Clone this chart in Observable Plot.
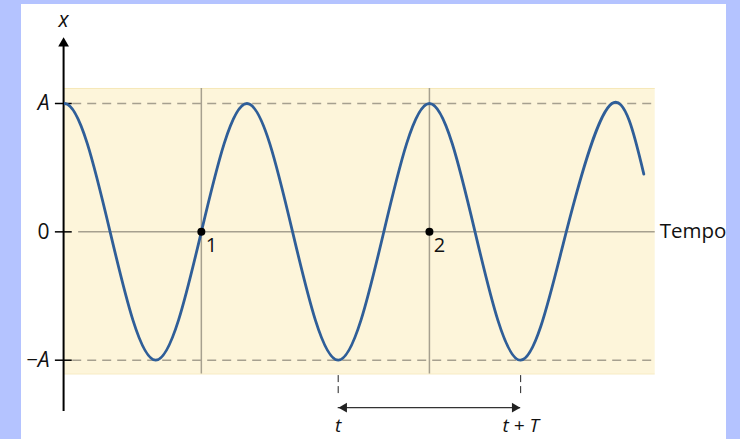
<!DOCTYPE html>
<html>
<head>
<meta charset="utf-8">
<script src="https://cdn.jsdelivr.net/npm/d3@7"></script>
<script src="https://cdn.jsdelivr.net/npm/@observablehq/plot@0.6"></script>
<style>
  html, body { margin: 0; padding: 0; }
  body { width: 740px; height: 439px; background: #b4c3ff; position: relative; overflow: hidden; }
  #chart { position: absolute; left: 21px; top: 4px; width: 705px; height: 435px; background: #ffffff; }
  #chart svg { display: block; overflow: visible; }
</style>
</head>
<body>
<div id="chart"></div>
<script>
// Oscillation x(t): time in quarter-periods, displacement in units of A.
// The first sample (t = -1) lies left of the axis and is clipped away;
// it only gives the spline the right shape at t = 0.
const curveT = [-1, 0, 1, 2, 3, 4, 5, 6, 7, 8, 9, 10, 11, 12, 12.7];
const curveX = [0, 1, 0, -1, 0, 1, 0, -1, 0, 1, 0, -1, 0, 1, 0.45];

// y-axis tick values and labels
const tickValues = [1, 0, -1];
const tickLabels = ["A", "0", "\u2212A"];

// marked instants 1 and 2 (zero crossing and crest)
const markT = [3, 8];
const markX = [0, 0];
const markLabels = ["1", "2"];

// one period between two troughs: t and t + T
const periodT = [6, 10];
const periodLabels = ["t", "t + T"];

const tEnd = 12.95;

const curve = curveT.map((t, i) => ({t, x: curveX[i]}));
const marks = markT.map((t, i) => ({t, x: markX[i], label: markLabels[i]}));
const ticks = tickValues.map((v, i) => ({v, label: tickLabels[i]}));
const periods = periodT.map((t, i) => ({t, label: periodLabels[i]}));

const grey = "#a6a08f";
const ink = "#111";
const font = "Open Sans";

const chart = Plot.plot({
  width: 705,
  height: 435,
  marginLeft: 43,
  marginRight: 69,
  marginTop: 0,
  marginBottom: 0,
  style: {background: "white", fontFamily: font, overflow: "visible"},
  x: {domain: [0, 13], axis: null},
  y: {domain: [-1, 1], range: [355.7, 99], axis: null},
  marks: [
    // shaded band
    Plot.rect([0], {x1: 0, x2: tEnd, y1: -1.107, y2: 1.117, fill: "#fdf5da"}),
    Plot.ruleY([1.117, -1.107], {x1: 0, x2: tEnd, stroke: "#f6e8b9", strokeWidth: 1}),
    // vertical guides through the marked instants
    Plot.ruleX(markT, {y1: -1.107, y2: 1.117, stroke: grey, strokeWidth: 1.5}),
    // time axis at x = 0
    Plot.ruleY([0], {x1: 0.31, x2: tEnd, stroke: grey, strokeWidth: 1.5}),
    // dashed amplitude lines
    Plot.ruleY([1, -1], {x1: 0.18, x2: tEnd, stroke: grey, strokeWidth: 1.5, strokeDasharray: "9,6"}),
    // dashed drop lines at t and t + T
    Plot.ruleX(periodT, {y1: -1.12, y2: -1.28, stroke: "#222", strokeWidth: 1, strokeDasharray: "7,4"}),
    // period span with arrowheads
    Plot.ruleY([-1.37], {x1: periodT[0], x2: periodT[1], stroke: "#333", strokeWidth: 1.2}),
    Plot.dot([periodT[0] + 0.13], {x: d => d, y: -1.37, symbol: "triangle", r: 3.6, fill: "#222", stroke: null, rotate: -90}),
    Plot.dot([periodT[1] - 0.13], {x: d => d, y: -1.37, symbol: "triangle", r: 3.6, fill: "#222", stroke: null, rotate: 90}),
    Plot.text(periods, {x: "t", y: -1.51, text: "label", fontSize: 19, fontStyle: "italic", fill: ink}),
    // displacement axis
    Plot.ruleX([-0.02], {y1: -1.40, y2: 1.45, stroke: "#000", strokeWidth: 2}),
    Plot.dot([1.468], {x: -0.02, y: d => d, symbol: "triangle", r: 4, fill: "#000", stroke: null}),
    Plot.ruleY(ticks, {y: "v", x1: -0.2, x2: 0.17, stroke: "#000", strokeWidth: 1.5}),
    Plot.text(ticks.filter(d => d.v !== 0), {x: -0.33, y: "v", text: "label", textAnchor: "end", fontSize: 21, fontStyle: "italic", fill: ink}),
    Plot.text(ticks.filter(d => d.v === 0), {x: -0.33, y: "v", text: "label", textAnchor: "end", fontSize: 21, fill: ink}),
    Plot.text(["x"], {x: -0.02, y: 1.65, text: d => d, fontSize: 21, fontStyle: "italic", fill: ink}),
    Plot.text(["Tempo"], {x: 13.05, y: 0, text: d => d, textAnchor: "start", fontSize: 20.5, fill: ink}),
    // the oscillation
    Plot.line(curve, {x: "t", y: "x", curve: "natural", stroke: "#2f5e98", strokeWidth: 2.8, clip: true}),
    // marked instants
    Plot.dot(marks, {x: "t", y: "x", r: 4, fill: "#000", stroke: null}),
    Plot.text(marks, {x: "t", y: "x", text: "label", dx: 10, dy: 14, fontSize: 20, fill: ink})
  ]
});

document.getElementById("chart").append(chart);
</script>
</body>
</html>
